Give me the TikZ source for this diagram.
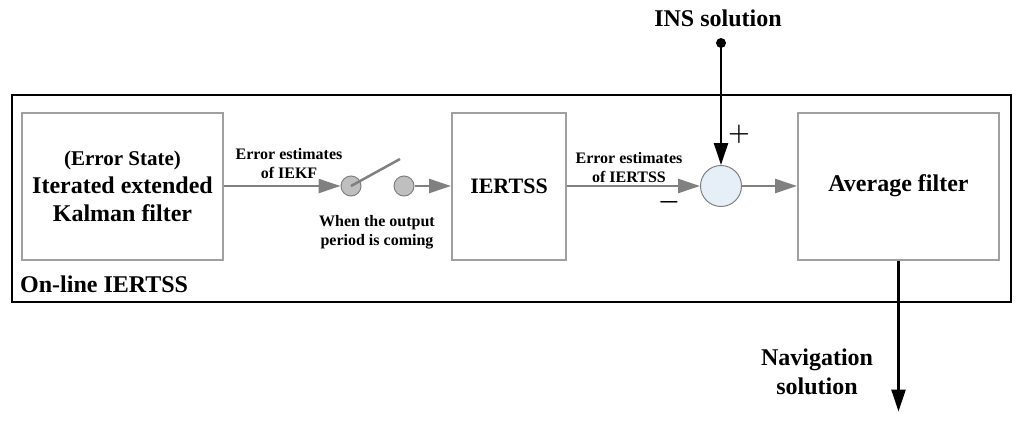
\documentclass[tikz,border=0pt]{standalone}
\usepackage{fontspec}
\setmainfont{Liberation Serif}
\usetikzlibrary{arrows.meta,positioning}

\definecolor{boxgray}{HTML}{A0A0A0}
\definecolor{linegray}{HTML}{808080}
\definecolor{sumblue}{HTML}{E6EEF8}

\tikzstyle{block} = [rectangle, draw=boxgray, line width=2pt,
    font=\bfseries\fontsize{24}{28}\selectfont, align=center]
\tikzstyle{line} = [draw=linegray, line width=2.5pt, -{Triangle[length=22pt,width=14pt]}]
\tikzstyle{bline} = [draw, line width=2.5pt, -{Triangle[length=22pt,width=14pt]}]
\tikzstyle{note} = [font=\bfseries\fontsize{16}{19}\selectfont, align=center, inner sep=0pt]
\tikzstyle{label} = [font=\bfseries\fontsize{24}{29}\selectfont, align=center, inner sep=0pt]
\tikzstyle{contact} = [circle, draw=linegray, line width=1pt, fill=gray!50, minimum size=20pt, inner sep=0pt]

\begin{document}
\begin{tikzpicture}[x=1pt, y=-1pt]
    \useasboundingbox (0,0) rectangle (1024,421);
    % frame of the on-line smoother
    \draw [line width=2.5pt] (12,95) rectangle (1011,302);
    \node [label, anchor=base west] (Online) at (20,292) {On-line IERTSS};

    \node [block, minimum width=201pt, minimum height=147pt] (IEKF) at (122.5,186)
        {{\fontsize{21}{28}\selectfont (Error State)}\\Iterated extended\\Kalman filter};
    \node [contact] (Sw1) at (351,186) {};
    \node [contact] (Sw2) at (404,186) {};
    \coordinate (SwTip) at (400,159);
    \node [block, minimum width=114pt, minimum height=147pt, font=\bfseries\fontsize{22}{28}\selectfont] (IERTSS) at (509,186) {IERTSS};
    \node [circle, draw=linegray, line width=1pt, fill=sumblue, minimum size=41pt, inner sep=0pt] (Sum) at (721,186) {};
    \node [block, minimum width=201pt, minimum height=147pt] (Avg) at (898.5,186) {Average filter};

    \node [label] (INS) at (718,18) {INS solution};
    \node [circle, fill, inner sep=0pt, minimum size=10pt] (INSdot) at (721,43) {};
    \coordinate (NavEnd) at ([yshift=-151pt]Avg.south);
    \node [label] (Nav) at (817,372) {Navigation\\solution};

    \node [note] (EstIEKF) at (289,164) {Error estimates\\of IEKF};
    \node [note] (When) at (377,232) {When the output\\period is coming};
    \node [note] (EstIERTSS) at (629,168) {Error estimates\\of IERTSS};
    \node [font=\boldmath\fontsize{30}{30}\selectfont, inner sep=0pt] (Plus) at (739,134) {$+$};
    \node [font=\boldmath\fontsize{30}{30}\selectfont, inner sep=0pt] (Minus) at (669,202) {$-$};

    \path [line] (IEKF.east) -- (Sw1.west);
    \draw [linegray, line width=2.5pt] (Sw1.center) -- (SwTip);
    \path [line] (Sw2.east) -- (IERTSS.west);
    \path [line] (IERTSS.east) -- (Sum.west);
    \path [line] (Sum.east) -- (Avg.west);
    \path [bline] (INSdot.center) -- (Sum.north);
    \path [bline] (Avg.south) -- (NavEnd);
\end{tikzpicture}
\end{document}
